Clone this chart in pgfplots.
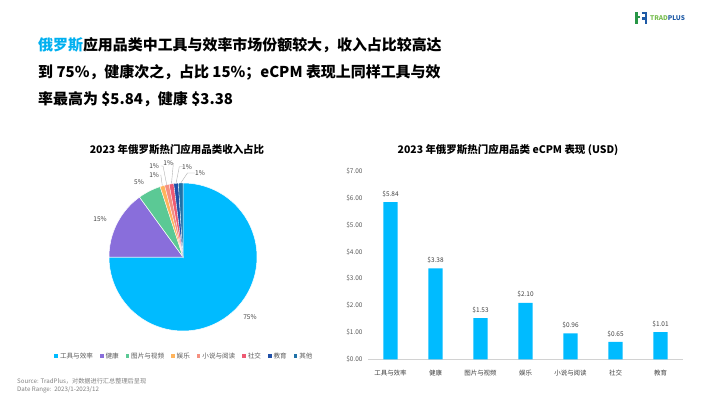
\documentclass[border=0pt]{standalone}
\usepackage{fontspec}
\setmainfont{Noto Sans CJK SC}
\usepackage{pgfplots}
\pgfplotsset{compat=1.18}
\definecolor{titleblue}{RGB}{0,176,240}
\definecolor{c1}{RGB}{0,187,255}
\definecolor{c2}{RGB}{137,110,219}
\definecolor{c3}{RGB}{91,201,149}
\definecolor{c4}{RGB}{255,180,92}
\definecolor{c5}{RGB}{245,144,128}
\definecolor{c6}{RGB}{238,90,115}
\definecolor{c7}{RGB}{32,80,168}
\definecolor{c8}{RGB}{31,114,168}
\definecolor{txt}{RGB}{64,64,64}
\definecolor{lgtxt}{RGB}{89,89,89}
\definecolor{foot}{RGB}{128,128,128}
\definecolor{logogreen}{RGB}{40,150,70}
\definecolor{logoblue}{RGB}{30,90,166}
\definecolor{logolg}{RGB}{120,190,80}
\begin{document}
\begin{tikzpicture}[x=1bp,y=1bp]
\useasboundingbox (0,0) rectangle (710,399);
\fill[white] (0,0) rectangle (710,399);
% logo
\fill[logogreen] (635,375) rectangle (637.5,387);
\fill[logogreen] (635,380.5) rectangle (640,383);
\fill[logoblue] (642,384.5) rectangle (647,387);
\fill[logoblue] (644.5,375) rectangle (647,387);
\fill[logoblue] (642,379) rectangle (647,381.5);
\node[anchor=west, inner sep=0, font=\bfseries\fontsize{6.5}{8}\selectfont] at (650,381) {\textcolor{logolg}{TRAD}\textcolor{logoblue}{PLUS}};
% title
\begin{scope}[font=\bfseries\fontsize{15}{18}\selectfont]
\node[anchor=base west, inner sep=0] at (38,349) {\textcolor{titleblue}{俄罗斯}应用品类中工具与效率市场份额较大，收入占比较高达};
\node[anchor=base west, inner sep=0] at (38,322) {到 75\%，健康次之，占比 15\%；eCPM 表现上同样工具与效};
\node[anchor=base west, inner sep=0] at (38,295) {率最高为 \$5.84，健康 \$3.38};
\end{scope}
% chart titles
\node[font=\bfseries\fontsize{10.5}{12}\selectfont] at (177,249) {2023 年俄罗斯热门应用品类收入占比};
\node[font=\bfseries\fontsize{10.5}{12}\selectfont] at (508,249) {2023 年俄罗斯热门应用品类 eCPM 表现 (USD)};
% footer
\node[anchor=base west, inner sep=0, text=foot, font=\fontsize{6.2}{7}\selectfont] at (17,15.5) {Source: TradPlus，对数据进行汇总整理后呈现};
\node[anchor=base west, inner sep=0, text=foot, font=\fontsize{6.2}{7}\selectfont] at (17,8) {Date Range:\ \ 2023/1-2023/12};

% pie
\begin{axis}[at={(183bp,142bp)}, anchor=center, width=148bp, height=148bp, scale only axis,
  xmin=-1, xmax=1, ymin=-1, ymax=1, hide axis, clip=false,
  legend columns=8,
  legend style={at={(0.51,-0.169)}, anchor=center, draw=none, fill=none,
    font=\fontsize{6.6}{8}\selectfont, text=lgtxt, inner sep=0pt,
    /tikz/every even column/.append style={column sep=5bp}},
  legend image code/.code={\fill[#1,draw=none] (0bp,-1.8bp) rectangle (3.6bp,1.8bp);},
  ]
\addplot[draw=white, line width=0.5pt, fill=c1, domain=-180:90, samples=120, variable=\t] ({cos(\t)},{sin(\t)}) -- (axis cs:0,0) -- cycle;
\addlegendentry{工具与效率}
\addplot[draw=white, line width=0.5pt, fill=c2, domain=126:180, samples=30, variable=\t] ({cos(\t)},{sin(\t)}) -- (axis cs:0,0) -- cycle;
\addlegendentry{健康}
\addplot[draw=white, line width=0.5pt, fill=c3, domain=108:126, samples=12, variable=\t] ({cos(\t)},{sin(\t)}) -- (axis cs:0,0) -- cycle;
\addlegendentry{图片与视频}
\addplot[draw=white, line width=0.3pt, fill=c4, domain=104.4:108, samples=4, variable=\t] ({cos(\t)},{sin(\t)}) -- (axis cs:0,0) -- cycle;
\addlegendentry{娱乐}
\addplot[draw=white, line width=0.3pt, fill=c5, domain=100.8:104.4, samples=4, variable=\t] ({cos(\t)},{sin(\t)}) -- (axis cs:0,0) -- cycle;
\addlegendentry{小说与阅读}
\addplot[draw=white, line width=0.3pt, fill=c6, domain=97.2:100.8, samples=4, variable=\t] ({cos(\t)},{sin(\t)}) -- (axis cs:0,0) -- cycle;
\addlegendentry{社交}
\addplot[draw=white, line width=0.3pt, fill=c7, domain=93.6:97.2, samples=4, variable=\t] ({cos(\t)},{sin(\t)}) -- (axis cs:0,0) -- cycle;
\addlegendentry{教育}
\addplot[draw=white, line width=0.3pt, fill=c8, domain=90:93.6, samples=4, variable=\t] ({cos(\t)},{sin(\t)}) -- (axis cs:0,0) -- cycle;
\addlegendentry{其他}
\begin{scope}[every node/.style={font=\fontsize{6.6}{8}\selectfont, text=txt, inner sep=1pt}]
\node at (axis cs:0.905,-0.81) {75\%};
\node at (axis cs:-1.12,0.51) {15\%};
\node at (axis cs:-0.595,1.01) {5\%};
\node at (axis cs:-0.39,1.11) {1\%};
\node at (axis cs:-0.39,1.23) {1\%};
\node at (axis cs:-0.2,1.27) {1\%};
\node at (axis cs:0.054,1.22) {1\%};
\node at (axis cs:0.23,1.135) {1\%};
\end{scope}
\begin{scope}[draw=gray!60, line width=0.4pt]
\draw (axis cs:-0.3,1.11) -- (axis cs:-0.28,0.965);
\draw (axis cs:-0.3,1.23) -- (axis cs:-0.27,1.23) -- (axis cs:-0.22,0.976);
\draw (axis cs:-0.13,1.27) -- (axis cs:-0.156,0.99);
\draw (axis cs:0.0,1.22) -- (axis cs:-0.05,1.22) -- (axis cs:-0.094,0.996);
\draw (axis cs:0.16,1.135) -- (axis cs:0.06,1.135) -- (axis cs:-0.03,1.0);
\end{scope}
\end{axis}

% bar chart
\begin{axis}[at={(368bp,39.7bp)}, anchor=south west, width=315bp, height=188.3bp, scale only axis,
  ybar, bar width=14.3bp, ymin=0, ymax=7, xmin=-0.5, xmax=6.5,
  axis x line*=bottom, axis y line*=left,
  x axis line style={-, draw=gray!35, line width=0.6pt},
  y axis line style={draw=none},
  ytick={0,1,...,7}, ytick style={draw=none},
  xtick={0,1,...,6}, xtick style={draw=none},
  xticklabels={工具与效率,健康,图片与视频,娱乐,小说与阅读,社交,教育},
  extra x ticks={-0.5,0.5,1.5,2.5,3.5,4.5,5.5,6.5},
  extra x tick labels={},
  extra x tick style={tick style={draw=gray!35, line width=0.6pt}, major tick length=3bp, tick align=outside},
  yticklabel={\$\pgfmathprintnumber[fixed,fixed zerofill,precision=2,assume math mode=true]{\tick}},
  yticklabel style={font=\fontsize{6.5}{8}\selectfont, text=lgtxt, xshift=-2bp},
  xticklabel style={font=\fontsize{6.5}{8}\selectfont, text=txt, yshift=-3bp},
  nodes near coords={\$\pgfmathprintnumber[fixed,fixed zerofill,precision=2,assume math mode=true]{\pgfplotspointmeta}},
  every node near coord/.append style={font=\fontsize{6.5}{8}\selectfont, text=txt, yshift=1.5bp},
  clip=false,
  ]
\addplot[fill=c1, draw=none] coordinates {(0,5.84) (1,3.38) (2,1.53) (3,2.10) (4,0.96) (5,0.65) (6,1.01)};
\end{axis}
\end{tikzpicture}
\end{document}
